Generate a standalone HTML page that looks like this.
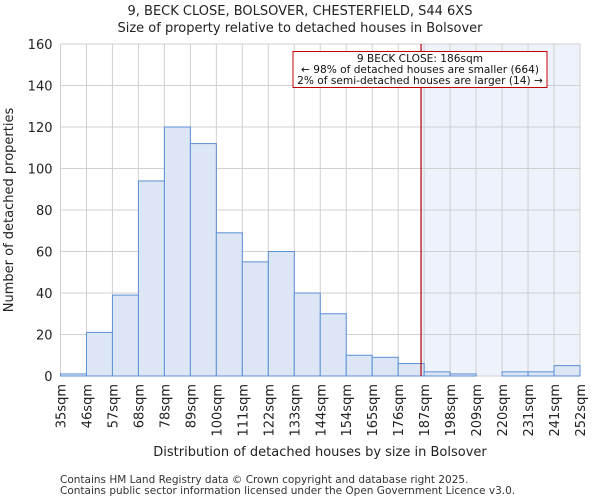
<!DOCTYPE html>
<html><head><meta charset="utf-8"><style>
body{margin:0;background:#fff;font-family:"DejaVu Sans","Liberation Sans",sans-serif}
</style></head><body>
<svg id="c" width="600" height="500" xmlns="http://www.w3.org/2000/svg" font-family="DejaVu Sans, Liberation Sans, sans-serif"></svg>
<script>
const categories=["35sqm","46sqm","57sqm","68sqm","78sqm","89sqm","100sqm","111sqm","122sqm","133sqm","144sqm","154sqm","165sqm","176sqm","187sqm","198sqm","209sqm","220sqm","231sqm","241sqm","252sqm"];
const values=[1,21,39,94,120,112,69,55,60,40,30,10,9,6,2,1,0,2,2,5];
const yTicks=[0,20,40,60,80,100,120,140,160];
const markerBin=13.88;
const L=60.5,R=580,T=44,B=376,yMax=160;
const n=values.length,bw=(R-L)/n;
const X=i=>L+i*bw, Y=v=>B-(v/yMax)*(B-T);
const svg=document.getElementById('c');const NS='http://www.w3.org/2000/svg';
function mk(t,a,p){const e=document.createElementNS(NS,t);for(const k in a)e.setAttribute(k,a[k]);(p||svg).appendChild(e);return e;}
function txt(s,a){const e=mk('text',a);e.textContent=s;return e;}
const mx=X(markerBin);
let e=mk('rect',{x:mx,y:T,width:R-mx,height:B-T,fill:'#eef2fb'});


for(let i=0;i<=n;i++){e=mk('line',{x1:X(i),x2:X(i),y1:T,y2:B,stroke:'#d0d0d0','stroke-width':1});

}
yTicks.forEach(v=>{e=mk('line',{x1:L,x2:R,y1:Y(v),y2:Y(v),stroke:'#d0d0d0','stroke-width':1});


e=txt(v,{x:L-8,y:Y(v)+5,'text-anchor':'end','font-size':13,fill:'#222'});

});
values.forEach((v,i)=>{e=mk('rect',{x:X(i),y:Y(v),width:bw,height:B-Y(v),fill:'#dce6f4',stroke:'#5b8fd6','stroke-width':1});

});
categories.forEach((c,i)=>{e=txt(c,{transform:`translate(${X(i)+5},384) rotate(-90)`,'text-anchor':'end','font-size':13,fill:'#222'});

});
e=mk('line',{x1:mx,x2:mx,y1:T,y2:B,stroke:'#b00000','stroke-width':1.2});


e=mk('rect',{x:293,y:51.5,width:254,height:36,fill:'#fff',stroke:'#c00000','stroke-width':1});


[["9 BECK CLOSE: 186sqm",62],["← 98% of detached houses are smaller (664)",73],["2% of semi-detached houses are larger (14) →",84]].forEach(([s,y])=>{e=txt(s,{x:420,y:y,'text-anchor':'middle','font-size':10.6,fill:'#111'});

});
e=txt("9, BECK CLOSE, BOLSOVER, CHESTERFIELD, S44 6XS",{x:300,y:15,'text-anchor':'middle','font-size':13,fill:'#222'});


e=txt("Size of property relative to detached houses in Bolsover",{x:300,y:32,'text-anchor':'middle','font-size':13,fill:'#222'});


e=txt("Distribution of detached houses by size in Bolsover",{x:320,y:456,'text-anchor':'middle','font-size':13,fill:'#222'});


e=txt("Number of detached properties",{transform:'translate(13,210) rotate(-90)','text-anchor':'middle','font-size':13,fill:'#222'});


e=txt("Contains HM Land Registry data © Crown copyright and database right 2025.",{x:60,y:483,'font-size':10.5,fill:'#333'});


e=txt("Contains public sector information licensed under the Open Government Licence v3.0.",{x:60,y:494,'font-size':10.5,fill:'#333'});


</script>
</body></html>
